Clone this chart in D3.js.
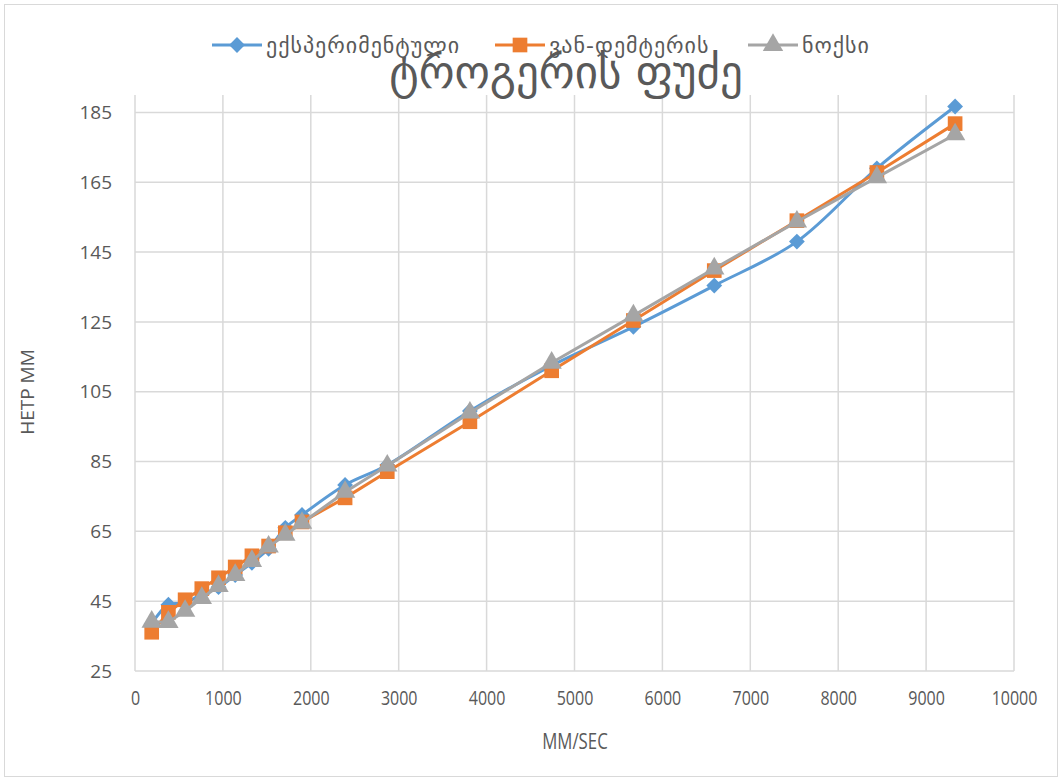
<!DOCTYPE html>
<html>
<head>
<meta charset="utf-8">
<script src="https://cdnjs.cloudflare.com/ajax/libs/d3/7.8.5/d3.min.js"></script>
<style>
  body { margin: 0; background: #fff; }
  svg { display: block; }
</style>
</head>
<body>
<div id="chart"></div>
<script>
const width = 1062
const height = 780

// flow velocity, mm/sec
const speeds = [190, 380, 570, 760, 950, 1140, 1330, 1520, 1710, 1900, 2390, 2870, 3810, 4740, 5670, 6590, 7530, 8440, 9330]
// HETP, mm
const experimental = [38.5, 44, 44.5, 47, 49, 52.5, 56, 60, 66, 69.7, 78.3, 84, 99.5, 112.5, 123.6, 135.4, 148, 169, 186.7]
const vanDeemter = [36.1, 41.8, 45.4, 48.6, 51.7, 54.8, 58.0, 60.8, 64.6, 67.7, 74.6, 82.1, 96.4, 111.0, 125.4, 139.7, 154.0, 167.8, 181.8]
const knox = [39.1, 39.0, 42.2, 45.9, 49.3, 52.5, 56.5, 60.6, 64.0, 67.4, 76.3, 83.8, 99.0, 113.3, 126.8, 140.3, 153.7, 166.4, 178.7]

const seriesNames = ["ექსპერიმენტული", "ვან-დემტერის", "ნოქსი"]
const xTicks = [0, 1000, 2000, 3000, 4000, 5000, 6000, 7000, 8000, 9000, 10000]
const yTicks = [25, 45, 65, 85, 105, 125, 145, 165, 185]

const series = [
  { name: seriesNames[0], values: experimental, color: "#5b9bd5", symbol: d3.symbolSquare, size: 125, rotate: 45, smooth: true },
  { name: seriesNames[1], values: vanDeemter, color: "#ed7d31", symbol: d3.symbolSquare, size: 215, rotate: 0, smooth: false },
  { name: seriesNames[2], values: knox, color: "#a5a5a5", symbol: d3.symbolTriangle, size: 180, rotate: 0, smooth: false }
]

const svg = d3.select("#chart").append("svg")
  .attr("width", width)
  .attr("height", height)

// outer chart frame
svg.append("rect")
  .attr("x", 4.5).attr("y", 4.5)
  .attr("width", width - 9).attr("height", height - 8)
  .attr("fill", "#fff")
  .attr("stroke", "#d9d9d9")
  .attr("stroke-width", 1)

const x = d3.scaleLinear().domain([0, 10000]).range([135, 1014])
const y = d3.scaleLinear().domain([25, 190]).range([671, 95])

// gridlines
svg.append("g")
  .selectAll("line")
  .data(yTicks)
  .enter().append("line")
  .attr("x1", x(0)).attr("x2", x(10000))
  .attr("y1", d => y(d)).attr("y2", d => y(d))
  .attr("stroke", "#d9d9d9")
  .attr("stroke-width", 1.5)

svg.append("g")
  .selectAll("line")
  .data(xTicks)
  .enter().append("line")
  .attr("x1", d => x(d)).attr("x2", d => x(d))
  .attr("y1", y(190)).attr("y2", y(25))
  .attr("stroke", "#d9d9d9")
  .attr("stroke-width", 1.5)

// axes (labels only, lines come from the grid)
const xAxis = svg.append("g")
  .attr("transform", "translate(0," + y(25) + ")")
  .call(d3.axisBottom(x).tickValues(xTicks).tickSize(0).tickPadding(20).tickFormat(d3.format("d")))
xAxis.select(".domain").remove()
xAxis.selectAll("text")
  .attr("fill", "#595959")
  .attr("transform", "scale(0.8,1)")
  .style("font-family", "'Open Sans', sans-serif")
  .style("font-size", "20px")

const yAxis = svg.append("g")
  .attr("transform", "translate(" + x(0) + ",0)")
  .call(d3.axisLeft(y).tickValues(yTicks).tickSize(0).tickPadding(23))
yAxis.select(".domain").remove()
yAxis.selectAll("text")
  .attr("fill", "#595959")
  .style("font-family", "'Open Sans', sans-serif")
  .style("font-size", "19px")

// axis titles
svg.append("text")
  .attr("transform", "translate(575,749) scale(0.8,1)")
  .attr("text-anchor", "middle")
  .attr("fill", "#595959")
  .style("font-family", "'Open Sans', sans-serif")
  .style("font-size", "21px")
  .text("MM/SEC")

svg.append("text")
  .attr("transform", "translate(34,392) rotate(-90)")
  .attr("text-anchor", "middle")
  .attr("fill", "#595959")
  .style("font-family", "'Open Sans', sans-serif")
  .style("font-size", "19px")
  .text("HETP MM")

// series lines and markers
const plot = svg.append("g")
series.forEach(s => {
  const line = d3.line()
    .x((d, i) => x(speeds[i]))
    .y(d => y(d))
    .curve(s.smooth ? d3.curveCatmullRom.alpha(0.5) : d3.curveLinear)

  plot.append("path")
    .datum(s.values)
    .attr("d", line)
    .attr("fill", "none")
    .attr("stroke", s.color)
    .attr("stroke-width", 3)
    .attr("stroke-linejoin", "round")

  plot.append("g")
    .selectAll("path")
    .data(s.values)
    .enter().append("path")
    .attr("transform", (d, i) => "translate(" + x(speeds[i]) + "," + y(d) + ") rotate(" + s.rotate + ")")
    .attr("d", d3.symbol().type(s.symbol).size(s.size))
    .attr("fill", s.color)
})

// legend
const legendX = [212, 495, 748]
const legend = svg.append("g")
series.forEach((s, i) => {
  const g = legend.append("g").attr("transform", "translate(" + legendX[i] + ",45)")
  g.append("line")
    .attr("x1", 0).attr("x2", 50)
    .attr("stroke", s.color).attr("stroke-width", 3)
  g.append("path")
    .attr("transform", "translate(25,0) rotate(" + s.rotate + ")")
    .attr("d", d3.symbol().type(s.symbol).size(s.size))
    .attr("fill", s.color)
  g.append("text")
    .attr("x", 54).attr("y", 8)
    .attr("fill", "#595959")
    .style("font-family", "'DejaVu Sans', sans-serif")
    .style("font-size", "22px")
    .style("letter-spacing", "1px")
    .text(s.name)
})

// title
svg.append("text")
  .attr("x", 566).attr("y", 88)
  .attr("text-anchor", "middle")
  .attr("fill", "#595959")
  .style("font-family", "'DejaVu Sans', sans-serif")
  .style("font-size", "45px")
  .text("ტროგერის ფუძე")
</script>
</body>
</html>
